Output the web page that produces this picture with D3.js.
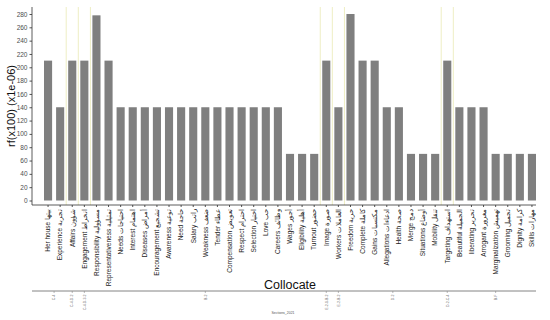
<!DOCTYPE html>
<html>
<head>
<meta charset="utf-8">
<script src="https://cdn.jsdelivr.net/npm/d3@7"></script>
<style>
  body { margin: 0; background: #fff; }
  svg { font-family: "Liberation Sans", Arial, sans-serif; }
</style>
</head>
<body>
<svg id="chart" width="550" height="320"></svg>
<script>
// collocates (english + arabic), their rf values and the section each one belongs to
const categories = ["Her house", "Experience", "Affairs", "Engagement", "Responsibility", "Representativeness",
  "Needs", "Interest", "Diseases", "Encouragement", "Awareness", "Need", "Salary", "Weakness", "Tender",
  "Compensation", "Respect", "Selection", "Love", "Careers", "Wages", "Eligibility", "Turnout", "Image",
  "Workers", "Freedom", "Complete", "Gains", "Allegations", "Health", "Merge", "Situations", "Mobility",
  "Targeting", "Beautiful", "liberating", "Arrogant", "Marginalization", "Grooming", "Dignity", "Skills"];
const arabic = ["بيتها", "تجربة", "شؤون", "انخراط", "مسؤولية", "تمثيلية",
  "احتياجات", "اهتمام", "أمراض", "تشجيع", "توعية", "حاجة", "راتب", "ضعف", "عطاء",
  "تعويض", "احترام", "اختيار", "حب", "وظائف", "أجور", "أهلية", "حضور", "صورة",
  "العاملات", "حرية", "كاملة", "مكتسبات", "ادعاءات", "صحة", "دمج", "أوضاع", "تنقل",
  "استهداف", "الجميلة", "تحرير", "مغرورة", "تهميش", "تجميل", "كرامة", "مهارات"];
const values = [210, 140, 210, 210, 278, 210,
  140, 140, 140, 140, 140, 140, 140, 140, 140,
  140, 140, 140, 140, 140, 70, 70, 70, 210,
  140, 280, 210, 210, 140, 140, 70, 70, 70,
  210, 140, 140, 140, 70, 70, 70, 70];
const sectionOf = ["C-4", "C-4", "C-4-D-2", "C-4-D-3-2", "B-2", "B-2",
  "B-2", "B-2", "B-2", "B-2", "B-2", "B-2", "B-2", "B-2", "B-2",
  "B-2", "B-2", "B-2", "B-2", "B-2", "B-2", "B-2", "B-2", "E-2-1-B-2",
  "E-2-B-2", "D-2", "D-2", "D-2", "D-2", "D-2", "D-2", "D-2", "D-2",
  "D-2-C-4", "B-F", "B-F", "B-F", "B-F", "B-F", "B-F", "B-F"];
const yTicks = [0, 20, 40, 60, 80, 100, 120, 140, 160, 180, 200, 220, 240, 260, 280];

const svg = d3.select("#chart");
const plotTop = 7, plotBottom = 205, plotLeft = 32;

const x = d3.scaleBand().domain(categories).range([44, 536]).paddingInner(0.33).paddingOuter(0);
const y = d3.scaleLinear().domain([0, 280]).range([200.5, 14]);

// consecutive runs of the same section
const groups = [];
categories.forEach((c, i) => {
  const g = groups[groups.length - 1];
  if (g && g.name === sectionOf[i] && g.end === i - 1) g.end = i;
  else groups.push({ name: sectionOf[i], start: i, end: i });
});

// separator lines between sections
svg.append("g").selectAll("line")
  .data(groups.slice(1))
  .join("line")
  .attr("x1", g => x(categories[g.start]) - x.step() * x.paddingInner() / 2)
  .attr("x2", g => x(categories[g.start]) - x.step() * x.paddingInner() / 2)
  .attr("y1", plotTop).attr("y2", plotBottom)
  .attr("stroke", "#eeeec4").attr("stroke-width", 1);

// bars
svg.append("g").selectAll("rect")
  .data(values)
  .join("rect")
  .attr("x", (d, i) => x(categories[i]))
  .attr("y", d => y(d))
  .attr("width", x.bandwidth())
  .attr("height", d => y(0) - y(d))
  .attr("fill", "#7f7f7f");

// y axis
const yAxis = svg.append("g")
  .attr("transform", `translate(${plotLeft},0)`)
  .call(d3.axisLeft(y).tickValues(yTicks).tickSize(2.5).tickSizeOuter(0).tickPadding(2));
yAxis.select(".domain").remove();
yAxis.selectAll("line").attr("stroke", "#555");
yAxis.selectAll("text").attr("font-size", 6.5).attr("fill", "#4d4d4d");
svg.append("line").attr("x1", plotLeft).attr("x2", plotLeft).attr("y1", plotTop).attr("y2", plotBottom)
  .attr("stroke", "#333").attr("stroke-width", 0.8);

// x axis
const xAxis = svg.append("g")
  .attr("transform", `translate(0,${plotBottom})`)
  .call(d3.axisBottom(x).tickSize(2).tickSizeOuter(0).tickFormat((d, i) => d + " " + arabic[i]));
xAxis.select(".domain").remove();
xAxis.selectAll("line").attr("stroke", "#555");
xAxis.selectAll("text")
  .attr("font-size", 6.5).attr("fill", "#222")
  .attr("text-anchor", "end")
  .attr("transform", "rotate(-90)")
  .attr("x", -4).attr("y", 0).attr("dy", "0.35em");
svg.append("line").attr("x1", plotLeft).attr("x2", 536).attr("y1", plotBottom).attr("y2", plotBottom)
  .attr("stroke", "#333").attr("stroke-width", 0.8);

// axis titles
svg.append("text")
  .attr("transform", `translate(15,${(plotTop + plotBottom) / 2}) rotate(-90)`)
  .attr("text-anchor", "middle")
  .attr("font-size", 11).attr("fill", "#111")
  .text("rf(x100) (x1e-06)");

svg.append("text")
  .attr("x", 290).attr("y", 289)
  .attr("text-anchor", "middle")
  .attr("font-size", 12.5).attr("fill", "#111")
  .text("Collocate");

// section axis
const secY = 291;
svg.append("line").attr("x1", plotLeft).attr("x2", 536).attr("y1", secY).attr("y2", secY)
  .attr("stroke", "#666").attr("stroke-width", 0.8);
const sec = svg.append("g").selectAll("g")
  .data(groups)
  .join("g")
  .attr("transform", g => {
    const cx = (x(categories[g.start]) + x(categories[g.end]) + x.bandwidth()) / 2;
    return `translate(${cx},${secY})`;
  });
sec.append("line").attr("y2", 2).attr("stroke", "#888").attr("stroke-width", 0.6);
sec.append("text")
  .attr("transform", "rotate(-90)")
  .attr("x", -3.5).attr("dy", "0.35em")
  .attr("text-anchor", "end")
  .attr("font-size", 3.5).attr("fill", "#666")
  .text(g => g.name);

svg.append("text")
  .attr("x", 283).attr("y", 314)
  .attr("text-anchor", "middle")
  .attr("font-size", 3.5).attr("fill", "#555")
  .text("Sections_2021");
</script>
</body>
</html>
